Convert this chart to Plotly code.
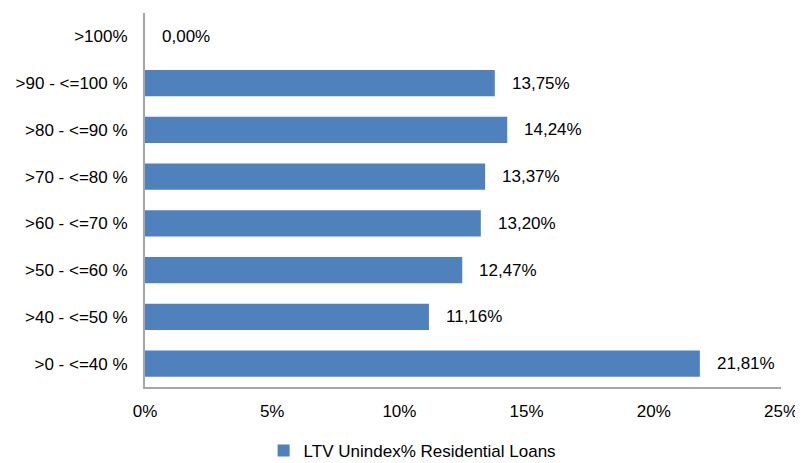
import plotly.graph_objects as go

categories = [">0 - <=40 %", ">40 - <=50 %", ">50 - <=60 %", ">60 - <=70 %",
              ">70 - <=80 %", ">80 - <=90 %", ">90 - <=100 %", ">100%"]
values = [21.81, 11.16, 12.47, 13.20, 13.37, 14.24, 13.75, 0.00]
labels = ["21,81%", "11,16%", "12,47%", "13,20%", "13,37%", "14,24%", "13,75%", "0,00%"]
series_name = "LTV Unindex% Residential Loans"
tick_vals = [0, 5, 10, 15, 20, 25]
tick_text = ["0%", "5%", "10%", "15%", "20%", "25%"]

FONT = "Liberation Sans, Arial, sans-serif"
FS = 17
fig = go.Figure()
fig.add_trace(go.Bar(
    y=categories, x=values, orientation="h", name=series_name,
    marker=dict(color="#4F81BD", line=dict(width=0)),
    width=0.56, showlegend=True,
))
for c, v, t in zip(categories, values, labels):
    fig.add_annotation(x=v, y=c, text=t, showarrow=False, xanchor="left",
                       xshift=15, font=dict(size=FS, color="#000000", family=FONT))

fig.update_layout(
    width=795, height=455,
    margin=dict(l=137, r=22, t=5, b=76, autoexpand=False),
    paper_bgcolor="white", plot_bgcolor="white",
    font=dict(family=FONT, size=FS, color="#000000"),
    xaxis=dict(range=[0, 25], tickvals=tick_vals, ticktext=tick_text,
               showgrid=False, zeroline=False, showline=True, automargin=False,
               linecolor="#A6A6A6", linewidth=2, ticks="", ticklabelstandoff=8),
    yaxis=dict(categoryorder="array", categoryarray=categories, automargin=False,
               showgrid=False, zeroline=False, showline=True,
               linecolor="#A6A6A6", linewidth=2, ticks="", ticklabelstandoff=12),
    legend=dict(orientation="h", x=0.42, xanchor="center", y=-0.171, yanchor="middle",
                font=dict(size=FS), itemwidth=30),
)
fig.write_html("out.html")
